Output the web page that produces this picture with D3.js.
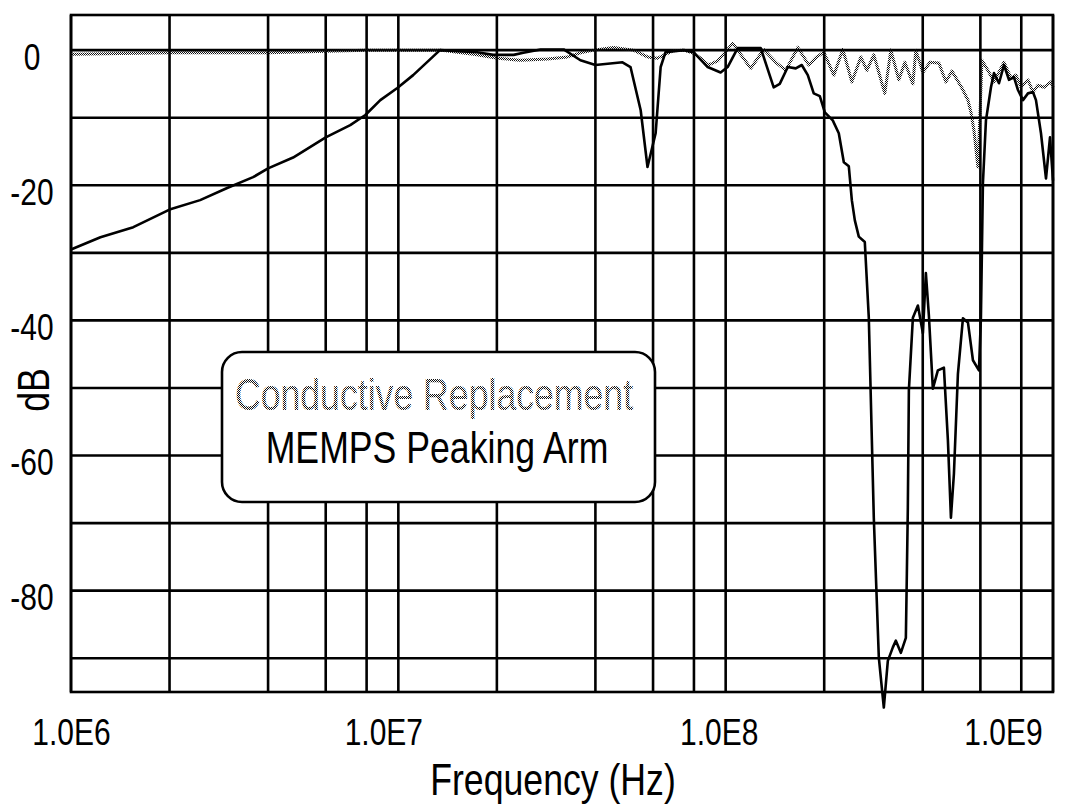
<!DOCTYPE html>
<html>
<head>
<meta charset="utf-8">
<script src="https://cdn.jsdelivr.net/npm/d3@7.9.0/dist/d3.min.js"></script>
<style>
  body { margin: 0; background: #fff; }
  svg text { font-family: "Liberation Sans", Arial, sans-serif; fill: #000; }
</style>
</head>
<body>
<div id="chart"></div>
<script>
// MEMPS Peaking Arm (solid) : frequency in MHz, level in dB
const memFreq = [1.00, 1.23, 1.55, 2.0, 2.48, 3.0, 3.6, 4.0, 4.77, 6.0, 7.13, 7.93, 8.81, 9.93, 11.1, 13.4,
  17.4, 19.5, 22.5, 24.1, 27.2, 32.0, 36.0, 40.0, 48.4, 51.2, 55.0, 57.7, 61.1, 63.3, 65.5, 74.4, 79.8,
  88.1, 96.5, 101.4, 108.8, 128, 140.2, 146.3, 154.8, 163.7, 170.8, 178.2, 185.8, 193.9, 200.9, 212.4,
  221.6, 229.6, 237.8, 242.9, 248.1, 255.1, 266.1, 273.7, 283.5, 293.7, 304.2, 312.9, 324.1, 331.1,
  342.9, 355.2, 357.7, 360.2, 362.8, 373.2, 386.6, 400.4, 408.9, 417.7, 429.5, 444.9, 464.2, 477.5,
  487.7, 498.1, 512.3, 530.7, 549.7, 569.4, 593.9, 602.3, 610.8, 624.0, 646.4, 660.2, 683.9, 708.4,
  733.7, 759.9, 781.6, 809.6, 838.5, 868.5, 887.1, 918.9, 951.9, 979.1, 1000];
const memDb = [-29.5, -27.7, -26.2, -23.6, -22.2, -20.4, -18.8, -17.5, -15.9, -12.9, -11.1, -9.6, -7.4, -5.6, -3.7, 0,
  -0.3, -0.7, -0.7, -0.4, 0.1, 0.1, -1.5, -2.2, -1.8, -2.5, -8.9, -17.3, -12.3, -2.5, -0.3, 0, -0.3,
  -2.5, -3.3, -2.5, 0.3, 0.3, -5.5, -5.0, -2.5, -2.7, -2.2, -3.7, -6.4, -6.8, -9.2, -10.4,
  -12.3, -16.6, -17.2, -22.2, -25.2, -27.6, -28.4, -39.6, -69.2, -89.9, -97.3, -90.4, -88.4, -87.4,
  -89.2, -87.0, -77.5, -67.7, -50.4, -39.6, -37.8, -41.9, -33.0, -39.3, -50.1, -47.4, -47.0, -57.8,
  -69.2, -62.7, -47.9, -39.7, -40.3, -45.9, -47.4, -39.6, -19.7, -10.4, -5.5, -3.4, -4.9, -2.2,
  -4.4, -4.0, -5.9, -7.4, -6.4, -6.2, -7.4, -12.3, -19.0, -12.9, -19.3];

// Conductive Replacement (dotted) : frequency in MHz, level in dB
const condFreq = [1.00, 2.0, 4.0, 7.93, 9.93, 13.4, 17.4, 20.1, 23.6, 28.6, 32.9, 36.0, 39.5, 45.4, 52.3,
  57.7, 61.9, 68.9, 74.4, 79.3, 83.8, 88.7, 94.5, 105.1, 119.3, 130.7, 142.2, 152.6, 166.1, 179.4,
  189.8, 199.4, 214.0, 228.0, 242.9, 258.8, 270.0, 283.5, 306.3, 319.6, 338.1, 352.7, 373.2, 381.0,
  400.4, 420.6, 448.1, 470.8, 491.1, 526.9, 549.7, 561.5, 573.5, 589.7, 598.2, 606.7, 632.8, 660.2,
  708.4, 743.9, 770.8, 798.4, 838.5, 868.5, 899.6, 938.6, 985.9, 1000];
const condDb = [-0.6, -0.4, -0.4, 0, 0, 0, -0.7, -1.2, -1.5, -1.3, -1.0, -0.4, 0, 0.4, 0,
  -1.0, -1.2, -0.1, 0, -0.4, -1.2, -2.2, -1.6, 1.0, -2.7, 0.1, -1.8, -3.0, 0.4, -2.2,
  -1.0, -0.3, -3.7, 0.1, -4.7, -1.0, -3.0, -0.7, -6.4, 0, -4.4, -1.8, -5.0, 0,
  -3.3, -1.8, -1.9, -4.7, -3.1, -5.6, -7.4, -9.2, -11.9, -17.3, -9.6, -1.5, -3.0, -4.7,
  -1.8, -4.1, -3.7, -5.5, -4.4, -6.2, -5.2, -5.5, -4.7, -5.5];

const xTicks = [1e6, 1e7, 1e8, 1e9];
const xTickLabels = ["1.0E6", "1.0E7", "1.0E8", "1.0E9"];
const yTicks = [0, -20, -40, -60, -80];
const gridMultipliers = [1, 2, 4, 6, 8];
const legendLabels = ["Conductive Replacement", "MEMPS Peaking Arm"];

const memps = memFreq.map((f, i) => ({ f: f * 1e6, db: memDb[i] }));
const cond = condFreq.map((f, i) => ({ f: f * 1e6, db: condDb[i] }));

const width = 1072, height = 807;
const plotLeft = 71, plotRight = 1053, plotTop = 15, plotBottom = 692;

const svg = d3.select("#chart").append("svg")
  .attr("width", width)
  .attr("height", height);

// stipple pattern for the dotted series and its label
const defs = svg.append("defs");
const pat = defs.append("pattern")
  .attr("id", "stipple")
  .attr("width", 2).attr("height", 2)
  .attr("patternUnits", "userSpaceOnUse");
pat.append("rect").attr("width", 1).attr("height", 1).attr("fill", "#111");
pat.append("rect").attr("x", 1).attr("y", 1).attr("width", 1).attr("height", 1).attr("fill", "#111");

const x = d3.scaleLog().domain([1e6, 1e9]).range([plotLeft, plotRight]);
const y = d3.scaleLinear().domain([-95, 5.2]).range([plotBottom, plotTop]);

// grid
const vGrid = [];
[1e6, 1e7, 1e8].forEach(dec => gridMultipliers.forEach(m => vGrid.push(dec * m)));
vGrid.push(1e9);

svg.append("g").selectAll("line")
  .data(vGrid)
  .join("line")
    .attr("x1", d => x(d)).attr("x2", d => x(d))
    .attr("y1", plotTop).attr("y2", plotBottom)
    .attr("stroke", "#000").attr("stroke-width", 2.6);

svg.append("g").selectAll("line")
  .data(d3.range(0, -91, -10))
  .join("line")
    .attr("x1", plotLeft).attr("x2", plotRight)
    .attr("y1", d => y(d)).attr("y2", d => y(d))
    .attr("stroke", "#000").attr("stroke-width", 2.6);

svg.append("rect")
  .attr("x", plotLeft).attr("y", plotTop)
  .attr("width", plotRight - plotLeft).attr("height", plotBottom - plotTop)
  .attr("fill", "none").attr("stroke", "#000").attr("stroke-width", 2.6);

// axes (labels only, grid does the lines)
const labelShift = [0, -15, -7, -50];
const xAxis = svg.append("g")
  .attr("transform", `translate(0,${plotBottom})`)
  .call(d3.axisBottom(x).tickValues(xTicks).tickFormat((d, i) => xTickLabels[i]).tickSize(0));
xAxis.select(".domain").remove();
xAxis.attr("font-family", null).attr("font-size", null);
xAxis.selectAll("text")
  .attr("y", 53).attr("dy", null)
  .attr("dx", (d, i) => labelShift[i])
  .style("font-size", "37px");

const yAxis = svg.append("g")
  .attr("transform", `translate(${plotLeft},0)`)
  .call(d3.axisLeft(y).tickValues(yTicks).tickFormat(d => String(d)).tickSize(0));
yAxis.select(".domain").remove();
yAxis.attr("font-family", null).attr("font-size", null);
yAxis.selectAll("text")
  .attr("x", -39).attr("dy", null).attr("y", 19)
  .attr("text-anchor", "middle")
  .style("font-size", "37px");

svg.append("text")
  .attr("x", 553).attr("y", 795)
  .attr("text-anchor", "middle")
  .style("font-size", "44px")
  .text("Frequency (Hz)");

svg.append("text")
  .attr("transform", "translate(49,390) rotate(-90)")
  .attr("text-anchor", "middle")
  .style("font-size", "44px")
  .text("dB");

// series
const line = d3.line()
  .x(d => x(d.f))
  .y(d => y(d.db));

svg.append("path")
  .datum(cond)
  .attr("d", line)
  .attr("fill", "none")
  .attr("stroke", "url(#stipple)")
  .attr("stroke-width", 3)
  .attr("stroke-linejoin", "round");

svg.append("path")
  .datum(memps)
  .attr("d", line)
  .attr("fill", "none")
  .attr("stroke", "#000")
  .attr("stroke-width", 2.6)
  .attr("stroke-linejoin", "round");

// legend box
const legend = svg.append("g");
legend.append("rect")
  .attr("x", 222).attr("y", 352)
  .attr("width", 433).attr("height", 150)
  .attr("rx", 20).attr("ry", 20)
  .attr("fill", "#fff")
  .attr("stroke", "#000").attr("stroke-width", 2.6);

legend.append("text")
  .attr("x", 434).attr("y", 410)
  .attr("text-anchor", "middle")
  .style("font-size", "44px")
  .style("fill", "url(#stipple)")
  .text(legendLabels[0]);

legend.append("text")
  .attr("x", 437).attr("y", 463)
  .attr("text-anchor", "middle")
  .style("font-size", "44px")
  .text(legendLabels[1]);

// the original lettering is a condensed face; squeeze every label horizontally
svg.selectAll("text").each(function () {
  const w = this.getComputedTextLength();
  d3.select(this)
    .attr("textLength", w * 0.81)
    .attr("lengthAdjust", "spacingAndGlyphs");
});
</script>
</body>
</html>
